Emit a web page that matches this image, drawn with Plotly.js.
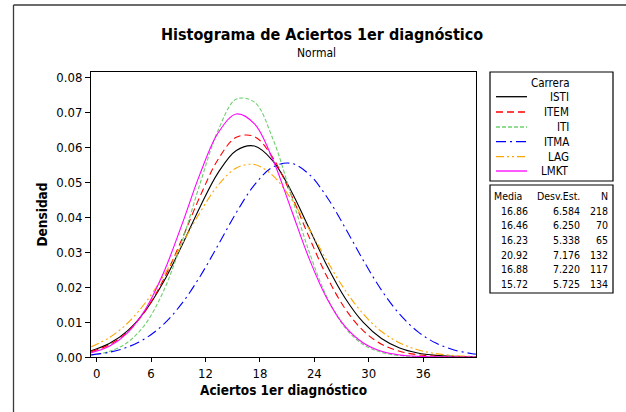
<!DOCTYPE html>
<html>
<head>
<meta charset="utf-8">
<script src="https://cdn.plot.ly/plotly-3.0.1.min.js"></script>
<style>
  html, body { margin: 0; padding: 0; background: #ffffff; }
  #chart { width: 626px; height: 412px; }
</style>
</head>
<body>
<div id="chart"></div>
<script>
// ---- Data ----
const groups = ["ISTI", "ITEM", "ITI", "ITMA", "LAG", "LMKT"];
const mediaLabels = ["16.86", "16.46", "16.23", "20.92", "16.88", "15.72"];
const desvLabels = ["6.584", "6.250", "5.338", "7.176", "7.220", "5.725"];
const nLabels = ["218", "70", "65", "132", "117", "134"];

const xGrid = [-0.6, 1.4, 3.4, 5.4, 7.4, 9.4, 11.4, 13.4, 15.4, 17.4, 19.4, 21.4,
  23.4, 25.4, 27.4, 29.4, 31.4, 33.4, 35.4, 37.4, 39.4, 41.4, 41.8];

const istiY = [0.00180, 0.00385, 0.00750, 0.01332, 0.02159, 0.03189, 0.04296, 0.05278,
  0.05912, 0.06039, 0.05625, 0.04777, 0.03700, 0.02613, 0.01682, 0.00988, 0.00529,
  0.00258, 0.00115, 0.000467, 0.000173, 0.000058, 0.000046];
const itemY = [0.00154, 0.00350, 0.00719, 0.01334, 0.02232, 0.03372, 0.04599, 0.05662,
  0.06292, 0.06311, 0.05715, 0.04671, 0.03446, 0.02295, 0.01380, 0.00749, 0.00367,
  0.00162, 0.000647, 0.000233, 0.000076, 0.000022, 0.000017];
const itiY = [0.00052, 0.00158, 0.00416, 0.00954, 0.01903, 0.03296, 0.04963, 0.06494,
  0.07384, 0.07296, 0.06265, 0.04676, 0.03032, 0.01709, 0.00837, 0.00356, 0.00132,
  0.000424, 0.000118, 0.000029, 0.000006, 0.000001, 0.000001];
const itmaY = [0.00062, 0.00137, 0.00282, 0.00536, 0.00942, 0.01533, 0.02306, 0.03210,
  0.04136, 0.04929, 0.05436, 0.05547, 0.05237, 0.04575, 0.03698, 0.02766, 0.01914,
  0.01225, 0.00726, 0.00398, 0.00202, 0.00095, 0.00081];
const lagY = [0.00295, 0.00555, 0.00967, 0.01561, 0.02334, 0.03231, 0.04143, 0.04920,
  0.05411, 0.05511, 0.05199, 0.04542, 0.03675, 0.02754, 0.01911, 0.01229, 0.00731,
  0.00403, 0.00206, 0.00097, 0.00043, 0.00017, 0.00014];
const lmktY = [0.00120, 0.00305, 0.00688, 0.01373, 0.02424, 0.03789, 0.05242, 0.06419,
  0.06958, 0.06675, 0.05668, 0.04260, 0.02834, 0.01669, 0.00870, 0.00401, 0.00164,
  0.000592, 0.000189, 0.000054, 0.000013, 0.000003, 0.000002];

const xTicks = [0, 6, 12, 18, 24, 30, 36];
const yTicks = [0, 0.01, 0.02, 0.03, 0.04, 0.05, 0.06, 0.07, 0.08];

// ---- Styles ----
const seriesY = [istiY, itemY, itiY, itmaY, lagY, lmktY];
const colors = ["#000000", "#ff0000", "#6fcf6f", "#0000ff", "#ffa500", "#ff00ff"];
const dashes = ["solid", "7px,4px", "4px,2px", "10px,4px,2px,4px",
  "8px,3px,2px,3px,2px,3px", "solid"];

const FONT = "DejaVu Sans Condensed, DejaVu Sans, sans-serif";

// plot area in pixels
const L = 91, R = 476, T = 72, B = 357;
const px = v => (v - L) / (R - L);
const py = v => (B - v) / (B - T);

const traces = groups.map((g, i) => ({
  type: "scatter",
  mode: "lines",
  name: g,
  x: xGrid,
  y: seriesY[i],
  line: { color: colors[i], width: 1.1, dash: dashes[i], shape: "spline", smoothing: 1 },
  hoverinfo: "skip",
  showlegend: false
}));

const shapes = [];
const annotations = [];

// outer graph frame (top and left edges)
shapes.push({ type: "line", xref: "paper", yref: "paper",
  x0: px(13.5), x1: px(640), y0: py(5), y1: py(5), line: { color: "#3a3a3a", width: 1.3 } });
shapes.push({ type: "line", xref: "paper", yref: "paper",
  x0: px(13.5), x1: px(13.5), y0: py(5), y1: py(420), line: { color: "#3a3a3a", width: 1.3 } });

// legend box
shapes.push({ type: "rect", xref: "paper", yref: "paper",
  x0: px(490), x1: px(613), y0: py(72), y1: py(181), line: { color: "#000", width: 1.2 } });
// stats box
shapes.push({ type: "rect", xref: "paper", yref: "paper",
  x0: px(490), x1: px(613), y0: py(185), y1: py(293), line: { color: "#000", width: 1.2 } });

annotations.push({ xref: "paper", yref: "paper", x: px(550), y: py(83), text: "Carrera",
  showarrow: false, xanchor: "center", yanchor: "middle", font: { family: FONT, size: 11.5, color: "#000" } });

const rowY = [96.7, 112, 127, 141.7, 156.7, 171];
groups.forEach((g, i) => {
  shapes.push({ type: "line", xref: "paper", yref: "paper",
    x0: px(496), x1: px(527), y0: py(rowY[i]), y1: py(rowY[i]),
    line: { color: colors[i], width: 1.3, dash: dashes[i] } });
  annotations.push({ xref: "paper", yref: "paper", x: px(571), y: py(rowY[i]), text: g,
    showarrow: false, xanchor: "right", yanchor: "middle", font: { family: FONT, size: 11.5, color: "#000" } });
});

// stats table
const hdrY = 195.7;
const statRows = [210.7, 224.7, 240, 254.7, 269.3, 284];
const hdrRight = [524, 582, 610];
const colRight = [530, 582, 610];
[["Media", "Desv.Est.", "N"]].concat(groups.map((g, i) => [mediaLabels[i], desvLabels[i], nLabels[i]]))
  .forEach((row, r) => {
    const yy = r === 0 ? hdrY : statRows[r - 1];
    row.forEach((t, c) => {
      annotations.push({ xref: "paper", yref: "paper", x: px(r === 0 ? hdrRight[c] : colRight[c]), y: py(yy), text: t,
        showarrow: false, xanchor: "right", yanchor: "middle",
        font: { family: FONT, size: 10.5, color: "#000" } });
    });
  });

// titles
annotations.push({ xref: "paper", yref: "paper", x: px(322), y: py(34), text: "<b>Histograma de Aciertos 1er diagnóstico</b>",
  showarrow: false, xanchor: "center", yanchor: "middle", font: { family: FONT, size: 16, color: "#000" } });
annotations.push({ xref: "paper", yref: "paper", x: px(316), y: py(53), text: "Normal",
  showarrow: false, xanchor: "center", yanchor: "middle", font: { family: FONT, size: 12, color: "#000" } });

const layout = {
  width: 626,
  height: 412,
  paper_bgcolor: "#ffffff",
  plot_bgcolor: "#ffffff",
  margin: { l: L, r: 626 - R, t: T, b: 412 - B, pad: 0 },
  showlegend: false,
  xaxis: {
    range: [-0.62, 41.82],
    tickvals: xTicks,
    ticktext: xTicks.map(String),
    ticks: "outside", ticklen: 4, tickcolor: "#000", tickwidth: 1,
    showgrid: false, zeroline: false,
    showline: true, linecolor: "#000", linewidth: 1, mirror: true,
    tickfont: { family: FONT, size: 13, color: "#000" },
    title: { text: "<b>Aciertos 1er diagnóstico</b>", font: { family: FONT, size: 13.5, color: "#000" }, standoff: 5 }
  },
  yaxis: {
    range: [0, 0.0816],
    tickvals: yTicks,
    tickformat: ".2f",
    ticks: "outside", ticklen: 5, tickcolor: "#000", tickwidth: 1,
    showgrid: false, zeroline: false,
    showline: true, linecolor: "#000", linewidth: 1, mirror: true,
    tickfont: { family: FONT, size: 13, color: "#000" },
    title: { text: "<b>Densidad</b>", font: { family: FONT, size: 13.5, color: "#000" }, standoff: 5 }
  },
  shapes: shapes,
  annotations: annotations
};

Plotly.newPlot("chart", traces, layout, { staticPlot: true, displayModeBar: false });
</script>
</body>
</html>
